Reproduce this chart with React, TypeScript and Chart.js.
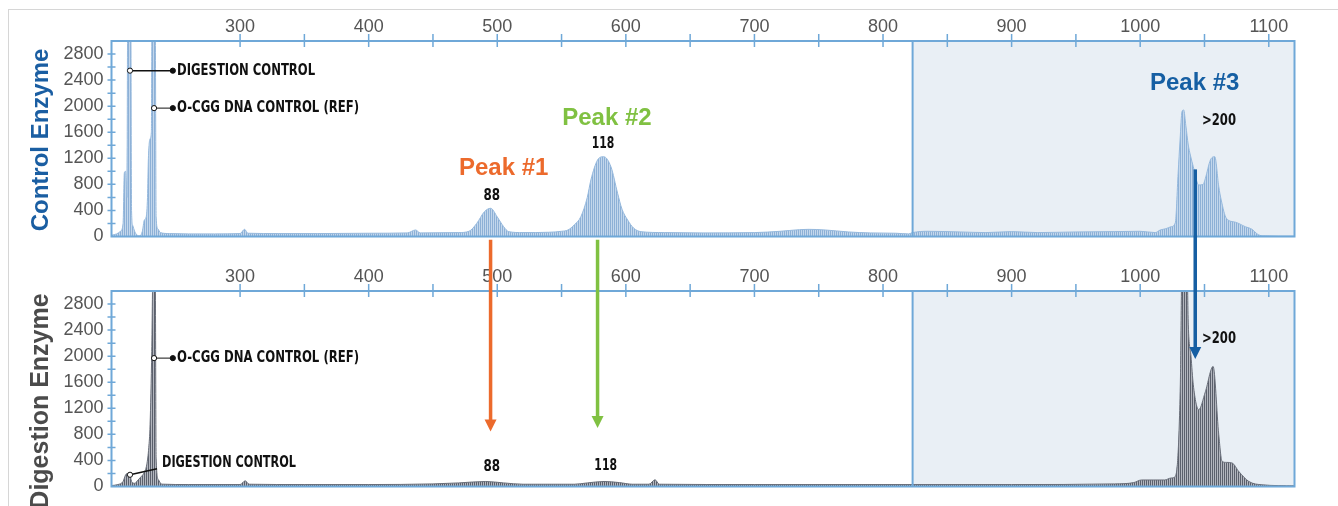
import React, { useEffect, useRef } from 'react';
import { Chart, registerables } from 'chart.js';

Chart.register(...registerables);

// ---- data (fragment size vs. signal intensity) ----
const controlX = [200, 204, 207, 209, 210, 211, 212, 212.6, 215, 215.6, 216.5, 218, 220, 222, 224, 225.5, 227, 228, 228.7, 230, 231, 231.5, 234, 234.7, 236, 238, 245, 260, 280, 300, 303.5, 306, 330, 360, 400, 430, 436.5, 440, 470, 478, 484, 490, 494.9, 500, 505, 509, 520, 540, 550, 555, 560, 565, 570, 572.8, 578, 582.7, 588.4, 593.6, 597, 601.4, 606, 611.8, 630, 660, 700, 720, 735, 742, 755, 773, 790, 810, 820, 823, 835, 860, 880, 900, 920, 950, 980, 1000, 1011.7, 1015.6, 1020, 1024, 1027.3, 1029.5, 1031, 1032.5, 1033.8, 1035.5, 1037.4, 1039, 1041.3, 1045.5, 1049, 1050.7, 1054.6, 1058, 1061.1, 1063, 1067, 1074, 1081.8, 1087, 1090.9, 1095, 1120];
const controlY = [20, 40, 80, 200, 980, 1000, 600, 3400, 3400, 400, 170, 80, 20, 10, 80, 250, 300, 600, 1200, 1500, 1600, 3400, 3400, 300, 120, 60, 45, 40, 40, 45, 110, 50, 45, 45, 50, 55, 100, 55, 60, 80, 200, 380, 433, 300, 150, 74, 60, 65, 80, 100, 180, 304, 600, 867, 1174, 1225, 1071, 663, 420, 253, 130, 74, 60, 55, 60, 80, 105, 110, 100, 70, 55, 50, 40, 60, 80, 70, 60, 75, 60, 70, 75, 80, 60, 100, 120, 150, 210, 970, 1480, 1916, 1942, 1700, 1404, 1250, 1071, 790, 800, 893, 1174, 1225, 765, 560, 280, 220, 150, 110, 40, 10, 5];

const digestX = [200, 205, 209, 211, 212.5, 214.4, 216, 218, 220.7, 223, 225, 227.4, 229, 230, 231.3, 232.3, 234, 234.7, 236.5, 239, 260, 300, 304, 307, 350, 400, 450, 470, 491, 505, 520, 560, 570, 583, 595, 605, 618, 622.7, 626, 700, 800, 900, 980, 995, 1001, 1010, 1019, 1024, 1027.3, 1031.2, 1032.5, 1036.4, 1037.4, 1039.5, 1041.3, 1045.5, 1050.7, 1056.7, 1061.1, 1063.7, 1067, 1071.5, 1076.7, 1084.5, 1094.8, 1120];
const digestY = [15, 30, 77, 180, 200, 170, 60, 50, 100, 150, 200, 333, 600, 947, 2072, 3400, 3400, 435, 103, 36, 30, 30, 87, 35, 30, 30, 40, 55, 77, 55, 35, 35, 55, 77, 60, 35, 35, 103, 35, 30, 30, 30, 40, 60, 100, 100, 100, 130, 154, 1560, 3400, 3400, 2481, 2000, 1560, 1177, 1455, 1842, 795, 385, 370, 360, 230, 77, 26, 10];

// ---- axes ----
const xTicks = [300, 400, 500, 600, 700, 800, 900, 1000, 1100];
const yTicks = [0, 400, 800, 1200, 1600, 2000, 2400, 2800];
const xMin = 200;
const xMax = 1120;
const yMax = 3000;

// ---- annotations ----
const peakNames = ['Peak #1', 'Peak #2', 'Peak #3'];
const peakColors = ['#ec6a2c', '#80c142', '#165fa3'];
const peakNameX = [505, 585.3, 1042.4];
const peakNameY = [1051, 1819, 2356];
const sizeLabels = ['88', '118', '>200'];
const controlSizeX = [495.7, 582.2, 1061.3];
const controlSizeY = [622, 1420, 1781];
const digestSizeX = [495.7, 584.3, 1061.3];
const digestSizeY = [302, 318, 2260];
const arrowX = [494.8, 578, 1042.8];
const arrowFrom = [-50, -50, 1030];
const arrowTo = [844, 896, 1955];
const shadeFrom = 823;

const PANEL_OFFSET = 250;
const SANS = "'Liberation Sans', Arial, Helvetica, sans-serif";
const COND = "'Liberation Sans Narrow', 'DejaVu Sans Condensed', 'DejaVu Sans', sans-serif";
const FRAME = '#6fa8d8';

function txt(ctx: CanvasRenderingContext2D, text: string, x: number, y: number, font: string, color: string, align: CanvasTextAlign, width?: number) {
  ctx.save();
  ctx.font = font;
  ctx.fillStyle = color;
  ctx.textBaseline = 'middle';
  ctx.textAlign = align;
  const w = ctx.measureText(text).width;
  const sx = width ? width / w : 1;
  ctx.translate(x, y);
  ctx.scale(sx, 1);
  ctx.fillText(text, 0, 0);
  ctx.restore();
}

function dot(ctx: CanvasRenderingContext2D, x: number, y: number, open: boolean) {
  ctx.beginPath();
  ctx.arc(x, y, 2.6, 0, Math.PI * 2);
  ctx.fillStyle = open ? '#ffffff' : '#111111';
  ctx.fill();
  ctx.lineWidth = 1;
  ctx.strokeStyle = '#111111';
  ctx.stroke();
}

function stripes(ctx: CanvasRenderingContext2D, base: string, line: string) {
  const c = document.createElement('canvas');
  c.width = 2;
  c.height = 1;
  const g = c.getContext('2d')!;
  g.fillStyle = base;
  g.fillRect(0, 0, 2, 1);
  g.fillStyle = line;
  g.fillRect(0, 0, 1, 1);
  return ctx.createPattern(c, 'repeat');
}

function makeDecor(panel: 'control' | 'digest') {
  return {
    id: 'decor_' + panel,
    beforeDatasetsDraw(chart: any) {
      const { ctx, chartArea: a, scales } = chart;
      const xs = scales.x;
      ctx.save();
      ctx.fillStyle = '#e9eff5';
      const x0 = xs.getPixelForValue(shadeFrom);
      ctx.fillRect(x0, a.top, a.right - x0, a.bottom - a.top);
      ctx.restore();
    },
    afterDatasetsDraw(chart: any) {
      const { ctx, chartArea: a, scales } = chart;
      const xs = scales.x;
      const ys = scales.y;
      ctx.save();
      // frame
      ctx.strokeStyle = FRAME;
      ctx.lineWidth = 2;
      ctx.strokeRect(a.left, a.top, a.right - a.left, a.bottom - a.top);
      const xb = xs.getPixelForValue(shadeFrom);
      ctx.beginPath();
      ctx.moveTo(xb, a.top);
      ctx.lineTo(xb, a.bottom);
      ctx.stroke();
      // tick marks
      ctx.lineWidth = 1.5;
      ctx.beginPath();
      for (let v = 300; v <= 1100; v += 50) {
        const px = xs.getPixelForValue(v);
        ctx.moveTo(px, a.top - 7);
        ctx.lineTo(px, a.top + 6);
      }
      for (let v = 200; v < yMax; v += 200) {
        const py = ys.getPixelForValue(v);
        ctx.moveTo(a.left - 4, py);
        ctx.lineTo(a.left + 4, py);
      }
      ctx.stroke();
      ctx.restore();

      // axis titles
      ctx.save();
      ctx.textAlign = 'center';
      ctx.textBaseline = 'middle';
      if (panel === 'control') {
        ctx.font = `bold 24px ${SANS}`;
        ctx.translate(41.5, 140);
        ctx.rotate(-Math.PI / 2);
        ctx.fillStyle = '#1a5ea2';
        ctx.fillText('Control Enzyme', 0, 0);
      } else {
        ctx.font = `bold 25px ${SANS}`;
        ctx.translate(41, 151);
        ctx.rotate(-Math.PI / 2);
        ctx.fillStyle = '#4b4b4b';
        ctx.fillText('Digestion Enzyme', 0, 0);
      }
      ctx.restore();

      // callouts
      const lbl = `bold 16.5px ${COND}`;
      const num = `bold 16px ${COND}`;
      ctx.save();
      ctx.strokeStyle = '#111111';
      ctx.lineWidth = 1.5;
      if (panel === 'control') {
        const y1 = ys.getPixelForValue(2545);
        const x1 = xs.getPixelForValue(214.4);
        const x2 = xs.getPixelForValue(247.7);
        ctx.beginPath(); ctx.moveTo(x1, y1); ctx.lineTo(x2, y1); ctx.stroke();
        dot(ctx, x1, y1, true); dot(ctx, x2, y1, false);
        txt(ctx, 'DIGESTION CONTROL', xs.getPixelForValue(251), y1, lbl, '#111111', 'left', 138);
      } else {
        const cx = xs.getPixelForValue(214.4);
        const cy = ys.getPixelForValue(180);
        const ex = xs.getPixelForValue(235.4);
        const ey = ys.getPixelForValue(272);
        ctx.beginPath(); ctx.moveTo(cx, cy); ctx.lineTo(ex, ey); ctx.stroke();
        dot(ctx, cx, cy, true);
        txt(ctx, 'DIGESTION CONTROL', xs.getPixelForValue(239.3), ys.getPixelForValue(359), lbl, '#111111', 'left', 134);
      }
      const ry = ys.getPixelForValue(1970);
      const rx1 = xs.getPixelForValue(233.1);
      const rx2 = xs.getPixelForValue(247.7);
      ctx.beginPath(); ctx.moveTo(rx1, ry); ctx.lineTo(rx2, ry); ctx.stroke();
      dot(ctx, rx1, ry, true); dot(ctx, rx2, ry, false);
      txt(ctx, 'O-CGG DNA CONTROL (REF)', xs.getPixelForValue(251), ry, lbl, '#111111', 'left', 182);

      const sx = panel === 'control' ? controlSizeX : digestSizeX;
      const sy = panel === 'control' ? controlSizeY : digestSizeY;
      const widths = [16.6, 22.6, 34];
      sizeLabels.forEach((s, i) => {
        txt(ctx, s, xs.getPixelForValue(sx[i]), ys.getPixelForValue(sy[i]), num, '#111111', 'center', widths[i]);
      });
      if (panel === 'control') {
        peakNames.forEach((p, i) => {
          txt(ctx, p, xs.getPixelForValue(peakNameX[i]), ys.getPixelForValue(peakNameY[i]), `bold 24px ${SANS}`, peakColors[i], 'center');
        });
      }
      ctx.restore();
    },
    afterDraw(chart: any) {
      if (panel !== 'control') return;
      const { ctx, scales } = chart;
      const xs = scales.x;
      const ys = scales.y;
      ctx.save();
      arrowX.forEach((v, i) => {
        const x = xs.getPixelForValue(v);
        const y0 = ys.getPixelForValue(arrowFrom[i]);
        const y1 = ys.getPixelForValue(arrowTo[i]) + PANEL_OFFSET;
        const head = 12;
        ctx.strokeStyle = peakColors[i];
        ctx.fillStyle = peakColors[i];
        ctx.lineWidth = 3.5;
        ctx.beginPath();
        ctx.moveTo(x, y0);
        ctx.lineTo(x, y1 - head + 1);
        ctx.stroke();
        ctx.beginPath();
        ctx.moveTo(x - 6, y1 - head);
        ctx.lineTo(x + 6, y1 - head);
        ctx.lineTo(x, y1);
        ctx.closePath();
        ctx.fill();
      });
      ctx.restore();
    },
  };
}

function makeChart(canvas: HTMLCanvasElement, panel: 'control' | 'digest') {
  const ctx = canvas.getContext('2d')!;
  const xsData = panel === 'control' ? controlX : digestX;
  const ysData = panel === 'control' ? controlY : digestY;
  const fill = panel === 'control' ? stripes(ctx, '#c3d7ec', '#8db0d6') : stripes(ctx, '#b3b6be', '#5b606c');
  const border = panel === 'control' ? '#96b9dd' : '#6a6f7a';
  const padBottom = panel === 'control' ? 506 - 236.5 : 256 - 236.5;
  return new Chart(ctx, {
    type: 'line',
    data: {
      datasets: [
        {
          data: xsData.map((x, i) => ({ x, y: ysData[i] })),
          borderColor: border,
          borderWidth: 1,
          backgroundColor: fill as any,
          fill: 'origin',
          pointRadius: 0,
          cubicInterpolationMode: 'monotone',
        },
      ],
    },
    options: {
      animation: false,
      responsive: false,
      events: [],
      layout: { padding: { left: 0, right: 43.5, top: 0, bottom: padBottom } },
      plugins: { legend: { display: false }, tooltip: { enabled: false } },
      scales: {
        x: {
          type: 'linear',
          position: 'top',
          min: xMin,
          max: xMax,
          afterBuildTicks: (s: any) => {
            s.ticks = xTicks.map((v) => ({ value: v }));
          },
          afterFit: (s: any) => {
            s.height = 41;
          },
          grid: { display: false, drawTicks: false },
          border: { display: false },
          ticks: {
            autoSkip: false,
            maxRotation: 0,
            padding: 3,
            color: '#555555',
            font: { size: 18, family: SANS },
            callback: (v: any) => String(v),
          },
        },
        y: {
          type: 'linear',
          min: 0,
          max: yMax,
          afterBuildTicks: (s: any) => {
            s.ticks = yTicks.map((v) => ({ value: v }));
          },
          afterFit: (s: any) => {
            s.width = 111.5;
          },
          grid: { display: false, drawTicks: false },
          border: { display: false },
          ticks: {
            autoSkip: false,
            padding: 8,
            color: '#555555',
            font: { size: 18, family: SANS },
            callback: (v: any) => String(v),
          },
        },
      },
    },
    plugins: [makeDecor(panel)],
  } as any);
}

export default function App() {
  const topRef = useRef<HTMLCanvasElement>(null);
  const botRef = useRef<HTMLCanvasElement>(null);
  useEffect(() => {
    const c1 = makeChart(topRef.current!, 'control');
    const c2 = makeChart(botRef.current!, 'digest');
    return () => {
      c1.destroy();
      c2.destroy();
    };
  }, []);
  return (
    <div style={{ position: 'absolute', left: 0, top: 0, width: 1338, height: 506, background: '#ffffff', overflow: 'hidden' }}>
      <div style={{ position: 'absolute', left: 8, top: 9, width: 1330, height: 497, borderTop: '1px solid #d6d6d6', borderLeft: '1px solid #d6d6d6' }} />
      <canvas ref={botRef} width={1338} height={256} style={{ position: 'absolute', left: 0, top: PANEL_OFFSET, width: 1338, height: 256 }} />
      <canvas ref={topRef} width={1338} height={506} style={{ position: 'absolute', left: 0, top: 0, width: 1338, height: 506, zIndex: 2, pointerEvents: 'none' }} />
    </div>
  );
}
